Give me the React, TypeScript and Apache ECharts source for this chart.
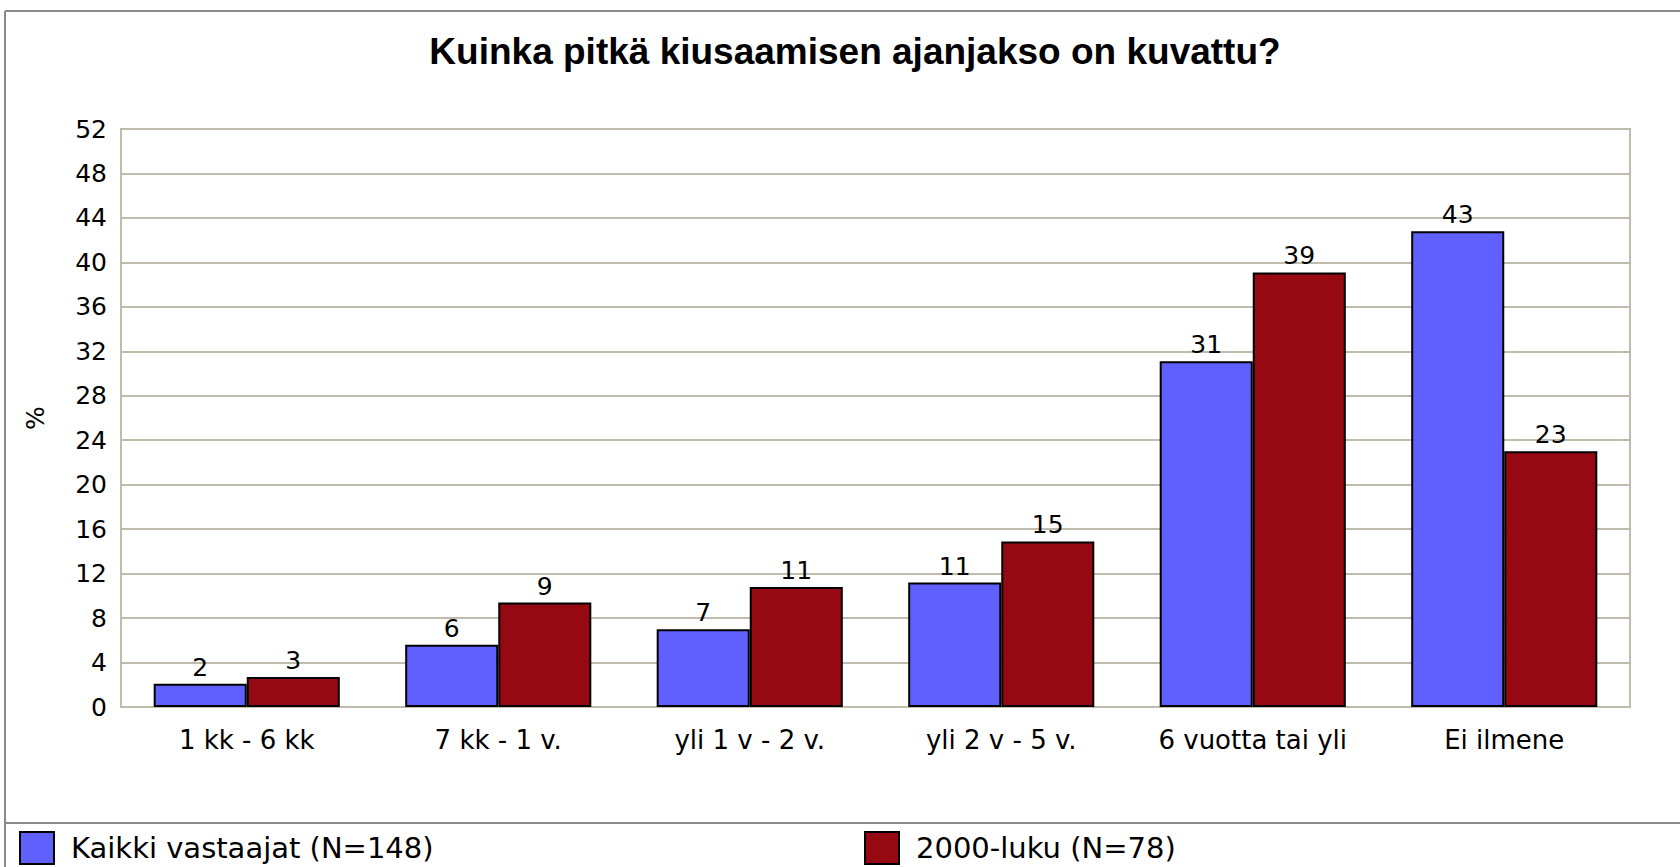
import React, { useEffect, useRef } from "react";
import * as echarts from "echarts";

const title = "Kuinka pitkä kiusaamisen ajanjakso on kuvattu?";
const categories = ["1 kk - 6 kk", "7 kk - 1 v.", "yli 1 v - 2 v.", "yli 2 v - 5 v.", "6 vuotta tai yli", "Ei ilmene"];
const seriesNames = ["Kaikki vastaajat (N=148)", "2000-luku (N=78)"];
const allValues = [2.1, 5.6, 7.0, 11.2, 31.1, 42.8];
const decadeValues = [2.7, 9.4, 10.8, 14.9, 39.1, 23.0];
const yAxisName = "%";

const FONT = "DejaVu Sans";

export default function App() {
  const ref = useRef<HTMLDivElement>(null);
  useEffect(() => {
    if (!ref.current) return;
    const chart = echarts.init(ref.current, null, { renderer: "svg" });
    const labelCfg = {
      show: true,
      position: "top" as const,
      distance: 4,
      color: "#000",
      fontFamily: FONT,
      fontSize: 25,
      formatter: (p: any) => String(Math.round(p.value)),
    };
    const legendBase = {
      top: 831,
      padding: 0,
      itemWidth: 34,
      itemHeight: 32,
      icon: "rect",
      itemStyle: { borderColor: "#000", borderWidth: 2 },
      textStyle: { fontFamily: FONT, fontSize: 29, color: "#000", padding: [0, 0, 0, 12] },
    };
    chart.setOption({
      animation: false,
      backgroundColor: "#fff",
      title: {
        text: title,
        left: 850,
        textAlign: "center",
        top: 28,
        textStyle: { fontFamily: "Liberation Sans", fontSize: 37, fontWeight: "bold", color: "#000" },
      },
      legend: [
        { ...legendBase, data: [seriesNames[0]], left: 19 },
        { ...legendBase, data: [seriesNames[1]], left: 864 },
      ],
      grid: {
        left: 121,
        right: 50,
        top: 129,
        bottom: 160,
        show: true,
        borderColor: "#bfbcae",
        borderWidth: 2,
        backgroundColor: "transparent",
      },
      xAxis: {
        type: "category",
        data: categories,
        axisLine: { show: true, lineStyle: { color: "#bfbcae", width: 2 } },
        axisTick: { show: false },
        axisLabel: { fontFamily: FONT, fontSize: 26, color: "#000", margin: 20 },
      },
      yAxis: {
        type: "value",
        min: 0,
        max: 52,
        interval: 4,
        name: yAxisName,
        nameLocation: "middle",
        nameRotate: 90,
        nameGap: 73,
        nameTextStyle: { fontFamily: FONT, fontSize: 25, color: "#000" },
        axisLine: { show: true, lineStyle: { color: "#bfbcae", width: 2 } },
        axisTick: { show: false },
        axisLabel: { fontFamily: FONT, fontSize: 25, color: "#000", margin: 14 },
        splitLine: { show: true, lineStyle: { color: "#bfbcae", width: 2 } },
      },
      series: [
        {
          name: seriesNames[0],
          type: "bar",
          data: allValues,
          barGap: "0%",
          barCategoryGap: "26%",
          itemStyle: { color: "#6060ff", borderColor: "#000", borderWidth: 2 },
          label: labelCfg,
        },
        {
          name: seriesNames[1],
          type: "bar",
          data: decadeValues,
          barGap: "0%",
          barCategoryGap: "26%",
          itemStyle: { color: "#960812", borderColor: "#000", borderWidth: 2 },
          label: labelCfg,
        },
      ],
      graphic: [
        { type: "line", shape: { x1: 5, y1: 11, x2: 1680, y2: 11 }, style: { stroke: "#8a8a8a", lineWidth: 2 } },
        { type: "line", shape: { x1: 5, y1: 11, x2: 5, y2: 867 }, style: { stroke: "#8a8a8a", lineWidth: 2 } },
        { type: "line", shape: { x1: 5, y1: 823, x2: 1680, y2: 823 }, style: { stroke: "#8a8a8a", lineWidth: 2 } },
      ],
    });
    return () => chart.dispose();
  }, []);
  return <div ref={ref} style={{ position: "fixed", left: 0, top: 0, width: 1680, height: 867 }} />;
}
